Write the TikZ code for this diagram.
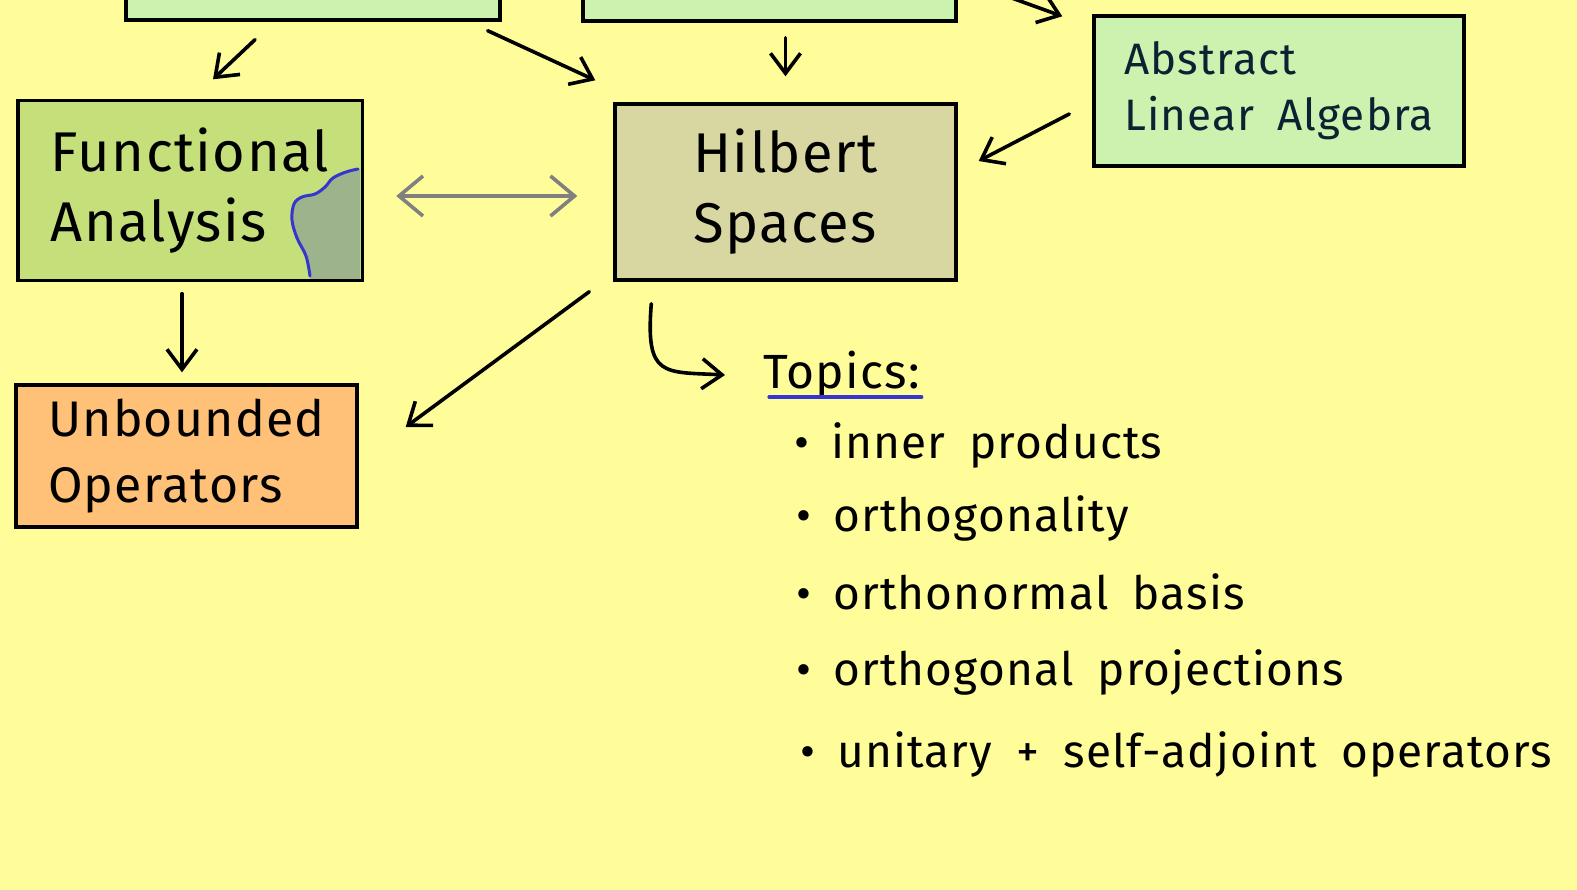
\documentclass[tikz,border=0pt]{standalone}
\usepackage{fontspec}
\setmainfont{Fira Sans}[LetterSpace=2.5, WordSpace=1.8]
\usetikzlibrary{arrows.meta,calc}
\definecolor{paper}{HTML}{FFFD99}
\definecolor{mint}{HTML}{CCF2B0}
\definecolor{olive}{HTML}{C5E07B}
\definecolor{khaki}{HTML}{D8D7A1}
\definecolor{peach}{HTML}{FFC078}
\definecolor{moss}{HTML}{9DB38B}
\definecolor{ink}{HTML}{0B2233}
\definecolor{pen}{HTML}{3535D0}
\newcommand\dotitem{{\fontsize{46}{46}\selectfont\textbullet}\hspace{22pt}}
\tikzset{
  box/.style={draw=black, line width=3.4pt, inner sep=0pt, align=left},
  edge/.style={draw=black, line width=3.4pt},
  arr/.style={-{Straight Barb[length=20pt,width=30pt]}, line width=3.6pt, line cap=round},
  twoway/.style={{Straight Barb[length=24pt,width=40pt]}-{Straight Barb[length=24pt,width=40pt]},
    line width=3.6pt, draw=gray, line cap=round},
  big/.style={font=\fontsize{56}{70}\selectfont},
  mid/.style={font=\fontsize{50}{66}\selectfont},
  small/.style={font=\fontsize{44}{56}\selectfont},
  item/.style={anchor=west, inner sep=0pt, font=\fontsize{46}{56}\selectfont}
}
\begin{document}
\begin{tikzpicture}[x=1pt,y=-1pt]
  \useasboundingbox[fill=paper] (0,0) rectangle (1577,890);

  % boxes cut by the top edge
  \node[box, fill=mint, minimum width=374pt, minimum height=120pt] (tl) at (313,-40) {};
  \node[box, fill=mint, minimum width=373pt, minimum height=120pt] (tm) at (769.5,-39) {};
  \coordinate (above) at (962,-20);

  \node[box, fill=mint, small, text=ink, minimum width=370pt, minimum height=150pt] (alg)
    at (1279,91) {Abstract\\Linear Algebra};
  \node[box, draw=none, fill=olive, big, minimum width=341pt, minimum height=177pt] (fa)
    at (190,190.5) {Functional\\Analysis};
  \node[box, fill=khaki, big, minimum width=341pt, minimum height=176pt] (hs)
    at (785.5,192) {Hilbert\\Spaces};
  \node[box, fill=peach, mid, minimum width=341pt, minimum height=142pt] (uo)
    at (186.5,456) {Unbounded\\Operators};

  % highlighter mark on Functional Analysis
  \fill[moss] (310,279) -- plot[smooth, tension=0.6] coordinates {(310,279) (306,256) (297,238)
    (292,220) (294,204) (302,197) (315,194) (325,187) (333,178) (346,172) (360,169)}
    -- (360,279) -- cycle;
  \draw[pen, line width=3pt, line cap=round] plot[smooth, tension=0.6] coordinates {(310,276)
    (306,256) (297,238) (292,220) (294,204) (302,197) (315,194) (325,187) (333,178) (346,172) (358,169)};
  \draw[edge] (fa.north west) rectangle (fa.south east);

  % topics
  \node[item, font=\fontsize{48}{56}\selectfont] (top) at (763,375) {Topics:};
  \draw[pen, line width=3.2pt, line cap=round] ([xshift=6pt,yshift=2pt]top.south west) -- ([xshift=2pt,yshift=2pt]top.south east);
  \node[item] (t1) at (794,445) {\dotitem inner products};
  \node[item] (t2) at (796,518) {\dotitem orthogonality};
  \node[item] (t3) at (796,592) {\dotitem orthonormal basis};
  \node[item] (t4) at (796,672) {\dotitem orthogonal projections};
  \node[item] (t5) at (800,754) {\dotitem unitary + self-adjoint operators};

  % connectors
  \draw[arr] ([shift={(-58,18)}]tl.south) -- ([shift={(23,-21)}]fa.north);
  \draw[arr] ([shift={(-14,9)}]tl.south east) -- ([shift={(-18,-22)}]hs.north west);
  \draw[arr, shorten <=15pt, shorten >=26pt] (tm.south -| hs.north) -- (hs.north);
  \draw[arr] (above) -- ([shift={(-30,2)}]alg.north west);
  \draw[arr] ([shift={(-23,23)}]alg.west) -- ([shift={(21,-31)}]hs.east);
  \draw[twoway] ([shift={(34,5.5)}]fa.east) -- ([shift={(-36,4)}]hs.west);
  \draw[arr, shorten >=11pt] ([shift={(-8,13)}]fa.south) -- ($(fa.south |- uo.north)+(-8,0)$);
  \draw[arr] ([shift={(-24,10)}]hs.south west) -- ([shift={(47,-29)}]uo.east);
  \draw[arr] ([shift={(38,22)}]hs.south west) .. controls ([shift={(32,96)}]hs.south west)
    and ([shift={(50,90)}]hs.south west) .. ([xshift=-38pt]top.west);
\end{tikzpicture}
\end{document}
